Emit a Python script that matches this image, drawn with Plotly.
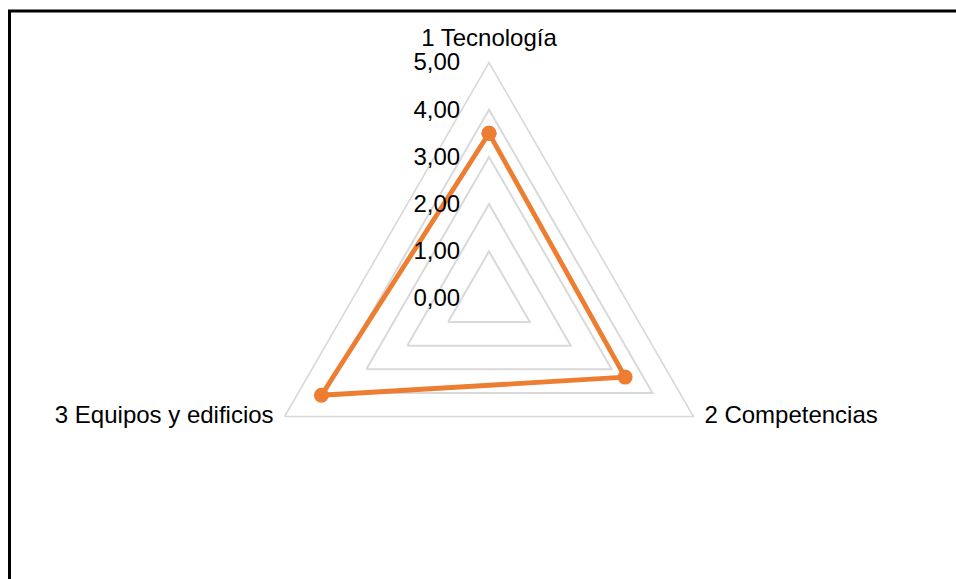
import plotly.graph_objects as go

# Scores per dimension
categories = ["1 Tecnología", "2 Competencias", "3 Equipos y edificios"]
scores = [3.5, 3.33, 4.1]
radial_ticks = [0, 1, 2, 3, 4, 5]
label_positions = ["top center", "middle right", "middle left"]

W, H = 956, 579
cx, cy, R = 489, 298.5, 236
r_max = radial_ticks[-1]

fig = go.Figure()
fig.add_trace(go.Scatterpolar(
    r=scores + scores[:1],
    theta=categories + categories[:1],
    mode="lines+markers",
    line=dict(color="#ED7D31", width=4.8),
    marker=dict(color="#ED7D31", size=15),
    showlegend=False,
    hoverinfo="skip",
))

# category names placed just outside each vertex of the outer ring
fig.add_trace(go.Scatterpolar(
    r=[r_max] * len(categories),
    theta=categories,
    mode="markers+text",
    text=categories,
    textposition=label_positions,
    textfont=dict(size=24, color="#000000"),
    marker=dict(size=16, opacity=0),
    cliponaxis=False,
    showlegend=False,
    hoverinfo="skip",
))

fig.update_layout(
    width=W, height=H,
    margin=dict(l=0, r=0, t=0, b=0),
    paper_bgcolor="white",
    plot_bgcolor="white",
    separators=", ",
    font=dict(family="Liberation Sans, Arial, sans-serif", size=24, color="#000000"),
    polar=dict(
        bgcolor="white",
        gridshape="linear",
        domain=dict(
            x=[(cx - R) / W, (cx + R) / W],
            y=[(H - cy - R) / H, (H - cy + R) / H],
        ),
        radialaxis=dict(
            range=[0, r_max],
            tickvals=radial_ticks,
            tickformat=".2f",
            angle=90,
            tickangle=90,
            side="counterclockwise",
            showline=False,
            ticks="outside",
            ticklen=20,
            tickcolor="rgba(0,0,0,0)",
            gridcolor="#d9d9d9",
            gridwidth=1.6,
            tickfont=dict(size=24),
        ),
        angularaxis=dict(
            direction="clockwise",
            rotation=90,
            showgrid=False,
            linecolor="#d9d9d9",
            linewidth=1.6,
            ticks="",
            showticklabels=False,
        ),
    ),
    shapes=[dict(
        type="rect", xref="paper", yref="paper",
        x0=9.5 / W, x1=1.05, y0=-0.05, y1=1 - 11 / H,
        line=dict(color="#000000", width=3),
        fillcolor="rgba(0,0,0,0)",
    )],
)

fig.write_html("out.html")
